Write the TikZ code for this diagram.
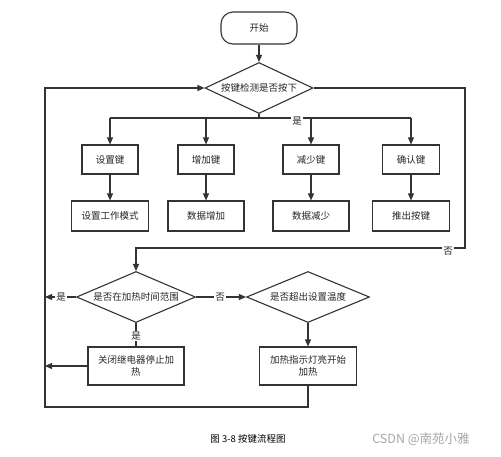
\documentclass[tikz,border=0pt]{standalone}
\usepackage{fontspec}
\setmainfont{Noto Sans CJK SC}
\usetikzlibrary{shapes.geometric,arrows.meta}
\begin{document}
\begin{tikzpicture}[x=1pt,y=-1pt,
  every node/.style={font=\fontsize{9.5}{12}\selectfont, text=black!85},
  box/.style={draw=black!80, line width=1.1pt, rectangle, inner sep=0pt, align=center},
  dec/.style={draw=black!80, line width=1.1pt, diamond, aspect=2.2, inner sep=0pt},
  line/.style={draw=black!80, line width=1.1pt},
  arr/.style={line, -{Triangle[length=7pt,width=6pt]}},
  lbl/.style={fill=white, inner sep=1pt}
]
\useasboundingbox (0,0) rectangle (501,456);
% nodes
\node[box, rounded corners=12pt, minimum width=76pt, minimum height=32pt] (start) at (259,28) {开始};
\node[dec, minimum width=108pt, minimum height=51pt] (d1) at (259,88) {按键检测是否按下};
\node[box, minimum width=56pt, minimum height=29pt] (k1) at (110,159.5) {设置键};
\node[box, minimum width=56pt, minimum height=29pt] (k2) at (206,159.5) {增加键};
\node[box, minimum width=56pt, minimum height=29pt] (k3) at (311,159.5) {减少键};
\node[box, minimum width=57pt, minimum height=29pt] (k4) at (411,159.5) {确认键};
\node[box, minimum width=77pt, minimum height=30pt] (a1) at (110,216) {设置工作模式};
\node[box, minimum width=76pt, minimum height=30pt] (a2) at (206,216) {数据增加};
\node[box, minimum width=76pt, minimum height=30pt] (a3) at (311,216) {数据减少};
\node[box, minimum width=77pt, minimum height=30pt] (a4) at (411,216) {推出按键};
\node[dec, minimum width=119pt, minimum height=51pt] (d2) at (136,297) {是否在加热时间范围};
\node[dec, minimum width=123pt, minimum height=51pt] (d3) at (308,297) {是否超出设置温度};
\node[box, minimum width=96pt, minimum height=38pt, text width=88pt] (b1) at (136,366) {关闭继电器停止加\\热};
\node[box, minimum width=97pt, minimum height=38pt, text width=88pt] (b2) at (308,366) {加热指示灯亮开始\\加热};
% coordinates
\coordinate (j1) at (259,118);
\coordinate (r1) at (465,88);
\coordinate (r2) at (465,248);
\coordinate (r3) at (136,248);
\coordinate (l1) at (45,297);
\coordinate (l2) at (45,366);
\coordinate (bb1) at (308,407);
\coordinate (bb2) at (45,407);
\coordinate (bb3) at (45,88);
% connectors
\draw[arr] (start) -- (d1);
\draw[line] (d1.south) -- (j1);
\draw[line] (k1.north |- j1) -- (k4.north |- j1);
\draw[arr] (k1.north |- j1) -- (k1);
\draw[arr] (k2.north |- j1) -- (k2);
\draw[arr] (k3.north |- j1) -- (k3);
\draw[arr] (k4.north |- j1) -- (k4);
\node[lbl] (yes1) at (297,121) {是};
\draw[arr] (k1) -- (a1);
\draw[arr] (k2) -- (a2);
\draw[arr] (k3) -- (a3);
\draw[arr] (k4) -- (a4);
\draw[arr] (d1.east) -- (r1) -- (r2) -- (r3) -- (d2.north);
\node[lbl] (no1) at (448,251) {否};
\draw[arr] (d2.west) -- (l1);
\node[lbl] (yes2) at (61,297) {是};
\draw[arr] (d2.east) -- (d3.west);
\node[lbl] (no2) at (220,297) {否};
\draw[line] (d2.south) -- (b1.north);
\node[lbl] (yes3) at (136,336) {是};
\draw[arr] (d3.south) -- (b2.north);
\draw[arr] (b1.west) -- (l2);
\draw[arr] (b2.south) -- (bb1) -- (bb2) -- (bb3) -- (d1.west);
% caption
\node[font=\fontsize{9.5}{11}\selectfont, text=black] (cap) at (248,439) {图 3-8 按键流程图};
\node[font=\fontsize{12.5}{14}\selectfont, text=black!35] (wm) at (421,439) {CSDN @南苑小雅};
\end{tikzpicture}
\end{document}
